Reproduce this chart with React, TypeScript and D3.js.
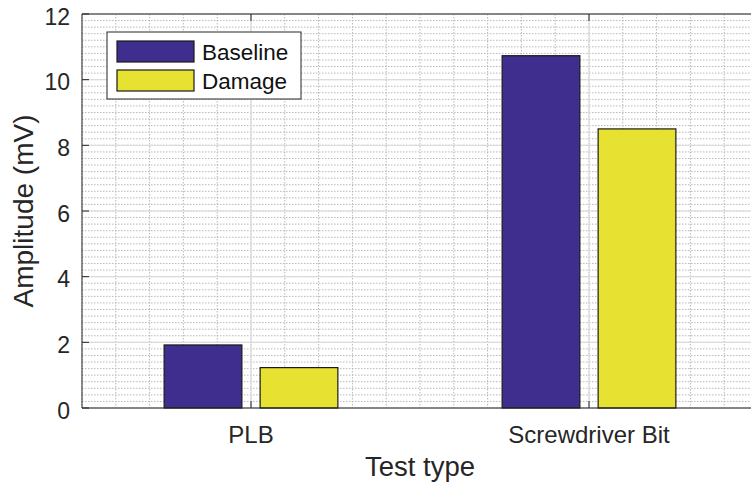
import { useMemo } from "react";
import * as d3 from "d3";

const WIDTH = 751;
const HEIGHT = 484;
const MARGIN = { top: 14, left: 82, bottom: 76, right: -7 };

const categories = ["PLB", "Screwdriver Bit"];
const series = ["Baseline", "Damage"];
const baseline = [1.92, 10.73];
const damage = [1.23, 8.5];
const yTicks = [0, 2, 4, 6, 8, 10, 12];

const COLORS = ["#3f2e8e", "#e7e132"];
const FONT = "'Liberation Sans', Arial, Helvetica, sans-serif";

export default function App() {
    const boundsWidth = WIDTH - MARGIN.left - MARGIN.right;
    const boundsHeight = HEIGHT - MARGIN.top - MARGIN.bottom;

    // x is categorical in matlab terms: 1..n, limits [0.5, n+0.5]
    const xScale = useMemo(
        () =>
            d3
                .scaleLinear()
                .domain([0.5, categories.length + 0.5])
                .range([0, boundsWidth]),
        [boundsWidth]
    );
    const yScale = useMemo(
        () => d3.scaleLinear().domain([0, 12]).range([boundsHeight, 0]),
        [boundsHeight]
    );

    const values = [baseline, damage];
    const barWidth = 0.23;
    const offsets = [-0.142, 0.142];

    const minorX = xScale.ticks(20);
    const minorY = yScale.ticks(60);

    return (
        <svg
            width={WIDTH}
            height={HEIGHT}
            style={{ position: "absolute", left: 0, top: 0, background: "#fff" }}
            fontFamily={FONT}
        >
            <g transform={`translate(${MARGIN.left},${MARGIN.top})`}>
                {/* minor grid */}
                {minorX.map((t) => (
                    <line
                        key={"mx" + t}
                        x1={xScale(t)}
                        x2={xScale(t)}
                        y1={0}
                        y2={boundsHeight}
                        stroke="#b8b8b8"
                        strokeWidth={1}
                        strokeDasharray="1.5 1.5"
                    />
                ))}
                {minorY.map((t) => (
                    <line
                        key={"my" + t}
                        x1={0}
                        x2={boundsWidth}
                        y1={yScale(t)}
                        y2={yScale(t)}
                        stroke="#b8b8b8"
                        strokeWidth={1}
                        strokeDasharray="1.5 1.5"
                    />
                ))}
                {/* major grid */}
                {yTicks.map((t) => (
                    <line
                        key={"gy" + t}
                        x1={0}
                        x2={boundsWidth}
                        y1={yScale(t)}
                        y2={yScale(t)}
                        stroke="#dcdcdc"
                        strokeWidth={1.2}
                    />
                ))}
                {categories.map((c, i) => (
                    <line
                        key={"gx" + c}
                        x1={xScale(i + 1)}
                        x2={xScale(i + 1)}
                        y1={0}
                        y2={boundsHeight}
                        stroke="#dcdcdc"
                        strokeWidth={1.2}
                    />
                ))}

                {/* bars */}
                {values.map((vals, s) =>
                    vals.map((v, i) => (
                        <rect
                            key={s + "-" + i}
                            x={xScale(i + 1 + offsets[s] - barWidth / 2)}
                            y={yScale(v)}
                            width={xScale(barWidth) - xScale(0)}
                            height={yScale(0) - yScale(v)}
                            fill={COLORS[s]}
                            stroke="#1a1a1a"
                            strokeWidth={1.2}
                        />
                    ))
                )}

                {/* axes box */}
                <line x1={0} x2={boundsWidth} y1={0} y2={0} stroke="#262626" strokeWidth={1} />
                <line x1={0} x2={boundsWidth} y1={boundsHeight} y2={boundsHeight} stroke="#262626" strokeWidth={1} />
                <line x1={0} x2={0} y1={0} y2={boundsHeight} stroke="#262626" strokeWidth={1} />
                <line x1={boundsWidth} x2={boundsWidth} y1={0} y2={boundsHeight} stroke="#262626" strokeWidth={1} />

                {/* y ticks */}
                {yTicks.map((t) => (
                    <g key={"yt" + t} transform={`translate(0,${yScale(t)})`}>
                        <line x1={0} x2={7} stroke="#262626" />
                        <line x1={boundsWidth} x2={boundsWidth - 7} stroke="#262626" />
                        <text
                            x={-12}
                            dy="0.47em"
                            textAnchor="end"
                            fontSize={23}
                            fill="#262626"
                        >
                            {t}
                        </text>
                    </g>
                ))}

                {/* x ticks */}
                {categories.map((c, i) => (
                    <g key={"xt" + c} transform={`translate(${xScale(i + 1)},0)`}>
                        <line y1={boundsHeight} y2={boundsHeight - 7} stroke="#262626" />
                        <line y1={0} y2={7} stroke="#262626" />
                        <text
                            y={boundsHeight + 35}
                            textAnchor="middle"
                            fontSize={24}
                            fill="#262626"
                        >
                            {c}
                        </text>
                    </g>
                ))}

                {/* axis titles */}
                <text
                    x={boundsWidth / 2}
                    y={boundsHeight + 68}
                    textAnchor="middle"
                    fontSize={27.5}
                    fill="#262626"
                >
                    Test type
                </text>
                <text
                    transform={`translate(${-MARGIN.left + 33},${boundsHeight / 2}) rotate(-90)`}
                    textAnchor="middle"
                    fontSize={28}
                    fill="#262626"
                >
                    Amplitude (mV)
                </text>

                {/* legend */}
                <g transform="translate(25,18)">
                    <rect width={194} height={67} fill="#fff" stroke="#262626" strokeWidth={1} />
                    {series.map((s, i) => (
                        <g key={s} transform={`translate(10,${9 + i * 29})`}>
                            <rect width={77} height={21} fill={COLORS[i]} stroke="#1a1a1a" strokeWidth={1.2} />
                            <text x={85} y={11} dy="0.36em" fontSize={22.5} fill="#111">
                                {s}
                            </text>
                        </g>
                    ))}
                </g>
            </g>
        </svg>
    );
}
